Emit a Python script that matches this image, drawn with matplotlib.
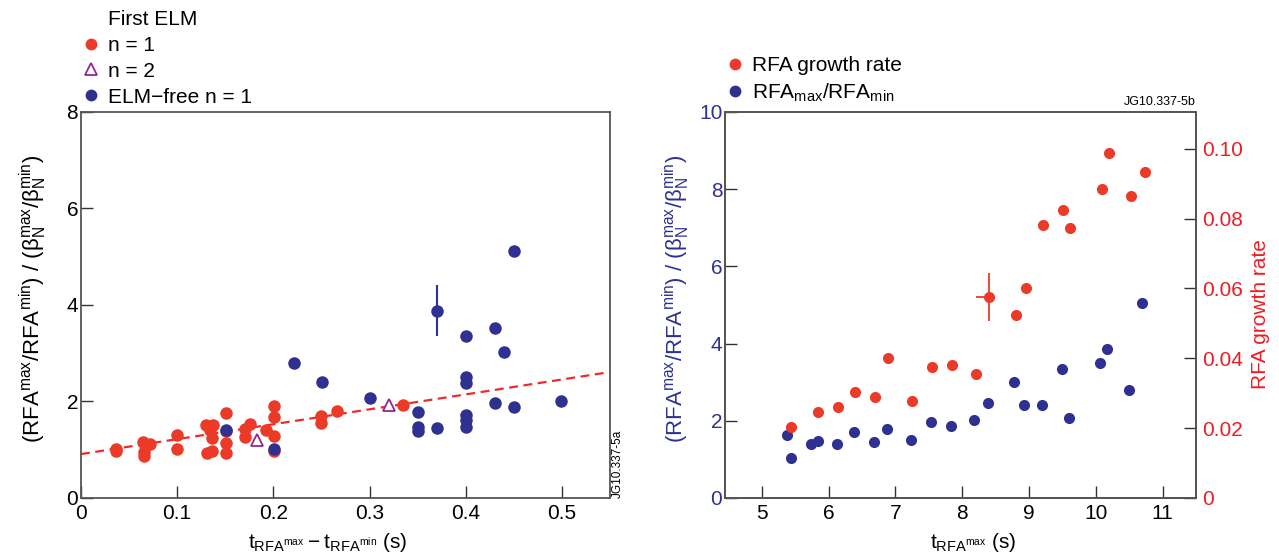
import matplotlib
matplotlib.use('Agg')
import matplotlib.pyplot as plt
from matplotlib.lines import Line2D

plt.rcParams['font.family'] = ['Liberation Sans', 'DejaVu Sans']
plt.rcParams['mathtext.fontset'] = 'custom'
plt.rcParams['mathtext.rm'] = 'Liberation Sans'
plt.rcParams['mathtext.default'] = 'regular'

RED = '#ec3a28'
RED_TXT = '#ed1c24'
BLUE = '#2e3192'
PURPLE = '#93278f'
GREY = '#555555'

# ---- panel a: first ELM / ELM-free ----
n1_x = [0.036, 0.036, 0.065, 0.072, 0.066, 0.066, 0.100, 0.100, 0.130, 0.137,
        0.136, 0.134, 0.131, 0.136, 0.151, 0.151, 0.151, 0.151, 0.171, 0.176,
        0.171, 0.192, 0.201, 0.201, 0.201, 0.201, 0.250, 0.250, 0.266, 0.335]
n1_y = [0.97, 1.01, 1.17, 1.12, 0.95, 0.87, 1.31, 1.02, 1.52, 1.52,
        1.24, 1.40, 0.93, 0.97, 1.76, 1.14, 0.94, 1.38, 1.43, 1.54,
        1.26, 1.41, 1.90, 1.68, 1.29, 0.98, 1.69, 1.55, 1.81, 1.93]

n2_x = [0.183, 0.320]
n2_y = [1.21, 1.93]

free_x = [0.151, 0.201, 0.221, 0.251, 0.300, 0.350, 0.350, 0.350, 0.370, 0.400,
          0.400, 0.400, 0.400, 0.400, 0.400, 0.430, 0.430, 0.440, 0.450, 0.450, 0.499]
free_y = [1.40, 1.01, 2.79, 2.41, 2.07, 1.79, 1.47, 1.38, 1.45, 3.35,
          2.50, 2.39, 1.72, 1.62, 1.48, 3.52, 1.97, 3.02, 5.11, 1.88, 2.01]
# ELM-free point with error bar
err_x = [0.370]
err_y = [3.88]
err_dy = [0.53]

fit_x = [0.0, 0.55]
fit_y = [0.91, 2.61]

# ---- panel b: vs time of RFA max ----
ratio_t = [5.38, 5.43, 5.73, 5.84, 6.13, 6.38, 6.68, 6.88, 7.23, 7.53, 7.83,
           8.18, 8.38, 8.78, 8.93, 9.19, 9.49, 9.59, 10.06, 10.16, 10.49, 10.69]
ratio_v = [1.63, 1.03, 1.41, 1.48, 1.41, 1.72, 1.46, 1.80, 1.51, 1.96, 1.87,
           2.02, 2.47, 3.00, 2.41, 2.41, 3.33, 2.07, 3.50, 3.86, 2.79, 5.05]

gr_t = [5.44, 5.84, 6.14, 6.40, 6.69, 6.89, 7.25, 7.55, 7.85, 8.20,
        8.81, 8.96, 9.21, 9.51, 9.61, 10.09, 10.19, 10.52, 10.73]
gr_v = [0.0204, 0.0247, 0.0260, 0.0303, 0.0288, 0.0402, 0.0278, 0.0374, 0.0380, 0.0354,
        0.0525, 0.0601, 0.0781, 0.0825, 0.0774, 0.0884, 0.0987, 0.0864, 0.0933]
# growth-rate point with error bars
gr_err_t = [8.40]
gr_err_v = [0.0576]
gr_err_dt = [[0.19], [0.0]]
gr_err_dv = [0.0068]

xticks_a = [0, 0.1, 0.2, 0.3, 0.4, 0.5]
xticklabels_a = ['0', '0.1', '0.2', '0.3', '0.4', '0.5']
yticks_a = [0, 2, 4, 6, 8]
xticks_b = [5, 6, 7, 8, 9, 10, 11]
yticks_b = [0, 2, 4, 6, 8, 10]
yticks_gr = [0, 0.02, 0.04, 0.06, 0.08, 0.10]
yticklabels_gr = ['0', '0.02', '0.04', '0.06', '0.08', '0.10']

FS = 15
ylab = r'(RFA$^{max}$/RFA$^{min}$) / ($β_N^{max}$/$β_N^{min}$)'

fig = plt.figure(figsize=(12.79, 5.54), dpi=100)
ax1 = fig.add_axes([0.0633, 0.1011, 0.4136, 0.6968])
ax2 = fig.add_axes([0.5669, 0.1011, 0.3683, 0.6968])


def style(ax):
    for s in ax.spines.values():
        s.set_color(GREY)
        s.set_linewidth(1.3)
    ax.tick_params(direction='in', length=8.5, width=1, color='#333333',
                   labelsize=FS, pad=4)


# panel a
ax1.plot(fit_x, fit_y, ls=(0, (4, 2.5)), color='#ee2a2a', lw=1.6, zorder=1)
ax1.plot(n1_x, n1_y, 'o', color=RED, ms=9, mec='none', zorder=2)
ax1.plot(n2_x, n2_y, '^', color=PURPLE, mfc='white', ms=9, mew=1.3, zorder=3)
ax1.plot(free_x, free_y, 'o', color=BLUE, ms=9, mec='none', zorder=4)
ax1.errorbar(err_x, err_y, yerr=err_dy, fmt='o', color=BLUE, ms=9, mec='none',
             elinewidth=1.5, capsize=0, zorder=4)
ax1.set_xlim(0, 0.55)
ax1.set_ylim(0, 8)
ax1.set_xticks(xticks_a)
ax1.set_xticklabels(xticklabels_a)
ax1.set_yticks(yticks_a)
style(ax1)
ax1.tick_params(axis='y', pad=2)
ax1.set_xlabel(r'$t_{RFA^{max}} - t_{RFA^{min}}$ (s)', fontsize=FS)
ax1.xaxis.set_label_coords(0.467, -0.085)
ax1.set_ylabel(ylab, fontsize=16)
ax1.yaxis.set_label_coords(-0.06, 0.516)
ax1.text(1.015, 0.0, 'JG10.337-5a', transform=ax1.transAxes, rotation=90,
         ha='center', va='bottom', fontsize=8.5)

leg_a = [Line2D([], [], ls='none', label='First ELM'),
         Line2D([], [], ls='none', marker='o', color=RED, mec='none', ms=8.5, label='n = 1'),
         Line2D([], [], ls='none', marker='^', color=PURPLE, mfc='white', mew=1.3, ms=8.5, label='n = 2'),
         Line2D([], [], ls='none', marker='o', color=BLUE, mec='none', ms=8.5, label='ELM\u2212free n = 1')]
ax1.legend(handles=leg_a, loc='upper left', bbox_to_anchor=(80.3 / 1279, 1 - 10 / 554),
           bbox_transform=fig.transFigure, frameon=False, fontsize=FS,
           handlelength=1.0, handletextpad=0.33, labelspacing=0.33,
           borderpad=0, borderaxespad=0)

# panel b
ax2.plot(ratio_t, ratio_v, 'o', color=BLUE, ms=8, mec='none', zorder=3)
ax2.set_xlim(4.45, 11.5)
ax2.set_ylim(0, 10)
ax2.set_xticks(xticks_b)
ax2.set_yticks(yticks_b)
style(ax2)
ax2.tick_params(axis='y', labelcolor=BLUE, pad=2)
ax2.set_xlabel(r'$t_{RFA^{max}}$ (s)', fontsize=FS)
ax2.xaxis.set_label_coords(0.527, -0.085)
ax2.set_ylabel(ylab, fontsize=16, color=BLUE)
ax2.yaxis.set_label_coords(-0.07, 0.516)

ax3 = ax2.twinx()
ax3.plot(gr_t, gr_v, 'o', color=RED, ms=8, mec='none', zorder=3)
ax3.errorbar(gr_err_t, gr_err_v, xerr=gr_err_dt, yerr=gr_err_dv, fmt='o',
             color=RED, ms=8, mec='none', elinewidth=1.3, capsize=0)
ax3.set_ylim(0, 0.1105)
ax3.set_yticks(yticks_gr)
ax3.set_yticklabels(yticklabels_gr)
style(ax3)
ax3.tick_params(axis='y', labelcolor=RED_TXT, pad=4)
ax3.set_ylabel('RFA growth rate', fontsize=FS, color=RED_TXT)
ax3.yaxis.set_label_coords(1.117, 0.477)
ax3.text(1.0, 1.01, 'JG10.337-5b', transform=ax3.transAxes,
         ha='right', va='bottom', fontsize=9)

leg_b = [Line2D([], [], ls='none', marker='o', color=RED, mec='none', ms=8.5, label='RFA growth rate'),
         Line2D([], [], ls='none', marker='o', color=BLUE, mec='none', ms=8.5,
                label=r'RFA$_{max}$/RFA$_{min}$')]
ax3.legend(handles=leg_b, loc='upper left', bbox_to_anchor=(724.6 / 1279, 1 - 56 / 554),
           bbox_transform=fig.transFigure, frameon=False, fontsize=FS,
           handlelength=1.0, handletextpad=0.32, labelspacing=0.3,
           borderpad=0, borderaxespad=0)

fig.savefig('out.png', dpi=100)
